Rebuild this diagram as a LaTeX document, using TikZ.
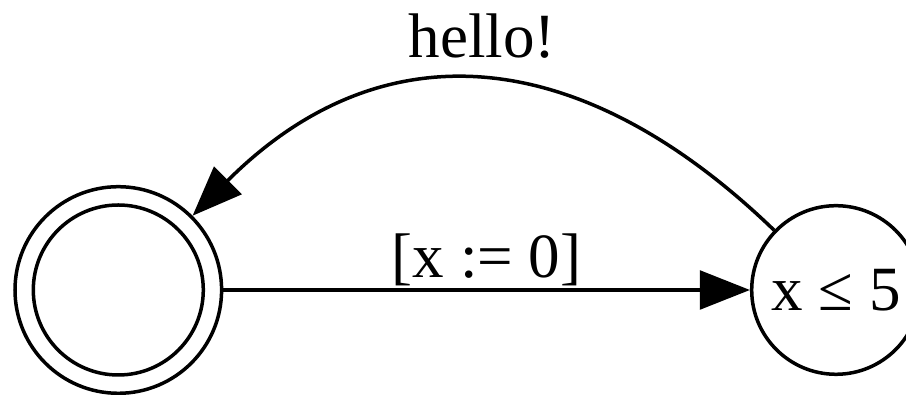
\documentclass[tikz,border=0pt]{standalone}
\usepackage{fontspec}
\setmainfont{Liberation Serif}
\usetikzlibrary{arrows.meta}

\begin{document}
\begin{tikzpicture}[x=0.5pt, y=0.5pt, line width=1.75pt,
    state/.style={draw, circle, inner sep=0pt},
    lbl/.style={font=\fontsize{31.5}{37}\selectfont},
    edge/.style={-{Triangle[length=25pt, width=19.3pt]}}]
        \useasboundingbox (0,0) rectangle (906,395);
        \node[state, minimum size=103.3pt] (init) at (118.3,105) {};
        \draw (init.center) circle (85);
        \node[state, minimum size=84.3pt, lbl] (bound) at (836,105) {x ≤ 5};
        \draw[edge] (init) -- (bound)
          node[midway, anchor=base, yshift=6pt, lbl] (reset) {[x := 0]};
        \draw[edge] (bound.136) to[out=136, in=45, looseness=1.18]
          node[midway, anchor=base, yshift=12pt, lbl] (greet) {hello!} (init.45);
      \end{tikzpicture}
\end{document}
